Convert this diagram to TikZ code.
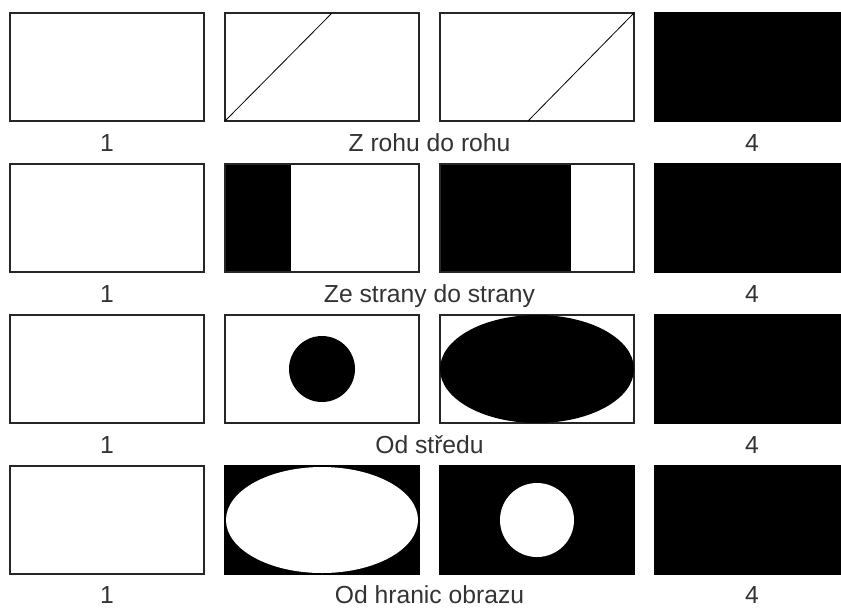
\documentclass[tikz,border=0pt]{standalone}
\usepackage{fontspec}
\setmainfont{Liberation Sans}
\usepackage{tikz}
\usetikzlibrary{positioning,calc,backgrounds}

\begin{document}
\begin{tikzpicture}[
      x=0.75pt,y=-0.75pt,
      node distance=32.25pt and 15.75pt,
      frame/.style={rectangle,draw=black!85,line width=0.8pt,minimum width=145.5pt,minimum height=81pt,inner sep=0pt,outer sep=0pt},
      dark/.style={frame,draw=black,fill=black},
      lbl/.style={font=\fontsize{18.5}{20}\selectfont,text=black!80,text height=13.2pt,text depth=0pt,inner sep=0pt},
    ]
    \useasboundingbox (0,0) rectangle (841,608);
    % row 1
    \node[frame] (a1) at (107,67) {};
    \node[frame,right=of a1] (a2) {};
    \node[frame,right=of a2] (a3) {};
    \node[dark,right=of a3] (a4) {};
    % row 2
    \node[frame,below=of a1] (b1) {};
    \node[frame,right=of b1] (b2) {};
    \node[frame,right=of b2] (b3) {};
    \node[dark,right=of b3] (b4) {};
    % row 3
    \node[frame,below=of b1] (c1) {};
    \node[frame,right=of c1] (c2) {};
    \node[frame,right=of c2] (c3) {};
    \node[dark,right=of c3] (c4) {};
    % row 4
    \node[frame,below=of c1] (d1) {};
    \node[dark,right=of d1] (d2) {};
    \node[dark,right=of d2] (d3) {};
    \node[dark,right=of d3] (d4) {};
    % corner to corner
    \draw[line width=0.6pt] (a2.south west) -- ($(a2.north west)+(107,0)$);
    \draw[line width=0.6pt] ($(a3.south west)+(88,0)$) -- (a3.north east);
    % side to side
    \begin{scope}[on background layer]
      \fill (b2.north west) rectangle ($(b2.south west)+(66,0)$);
      \fill (b3.north west) rectangle ($(b3.south west)+(131,0)$);
    \end{scope}
    % from the centre
    \fill (c2.center) circle [radius=33];
    \fill (c3.center) ellipse [x radius=97,y radius=54];
    % from the edges
    \fill[white] (d2.center) ellipse [x radius=96,y radius=53];
    \fill[white] (d3.center) circle [radius=37];
    % labels
    \node[lbl] (a1l) at ($(a1.south)+(0,22)$) {1};
    \node[lbl] (a2l) at ($(a2.south)!0.5!(a3.south)+(0,22)$) {Z rohu do rohu};
    \node[lbl] (a4l) at ($(a4.south)+(0,22)$) {4};
    \node[lbl] (b1l) at ($(b1.south)+(0,22)$) {1};
    \node[lbl] (b2l) at ($(b2.south)!0.5!(b3.south)+(0,22)$) {Ze strany do strany};
    \node[lbl] (b4l) at ($(b4.south)+(0,22)$) {4};
    \node[lbl] (c1l) at ($(c1.south)+(0,22)$) {1};
    \node[lbl] (c2l) at ($(c2.south)!0.5!(c3.south)+(0,22)$) {Od středu};
    \node[lbl] (c4l) at ($(c4.south)+(0,22)$) {4};
    \node[lbl] (d1l) at ($(d1.south)+(0,21)$) {1};
    \node[lbl] (d2l) at ($(d2.south)!0.5!(d3.south)+(0,21)$) {Od hranic obrazu};
    \node[lbl] (d4l) at ($(d4.south)+(0,21)$) {4};
  \end{tikzpicture}
\end{document}
